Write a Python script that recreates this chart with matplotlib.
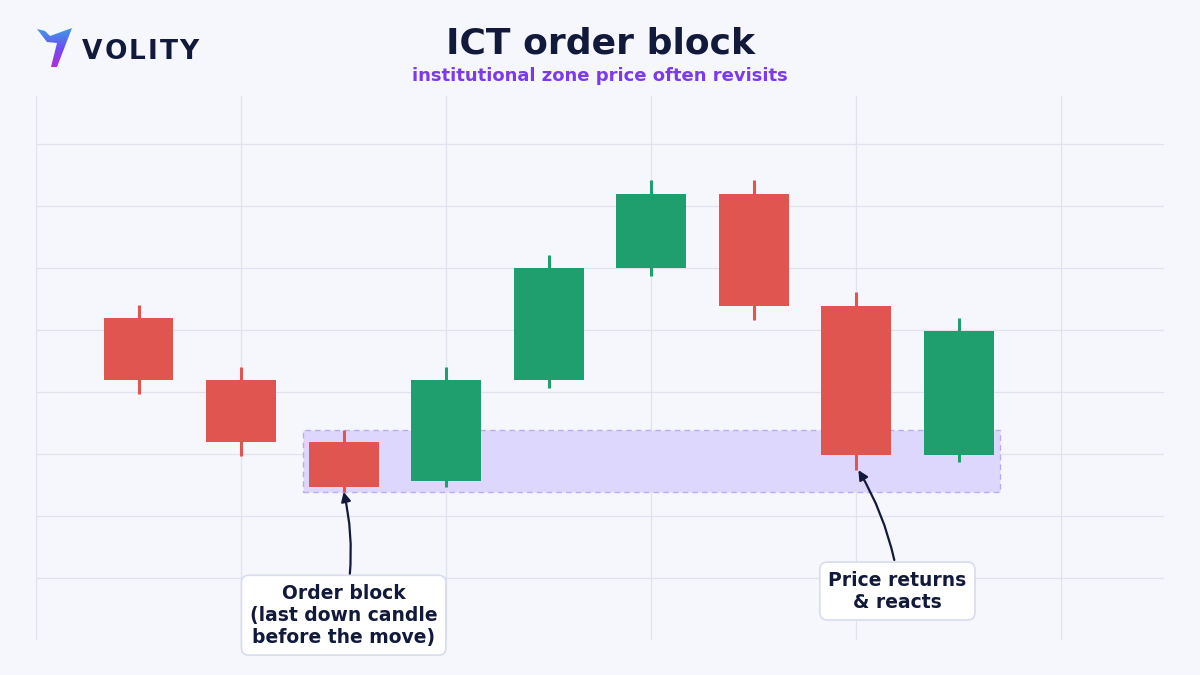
import numpy as np
import matplotlib.pyplot as plt
from matplotlib.patches import Rectangle, Polygon
from matplotlib.colors import LinearSegmentedColormap

# ============================
# Data (price units, one grid step = 1)
# ============================
opens = [5.19, 4.19, 3.19, 2.56, 4.19, 6.00, 7.19, 5.39, 2.98]
closes = [4.19, 3.19, 2.47, 4.19, 6.00, 7.19, 5.39, 2.98, 4.98]
highs = [5.40, 4.40, 3.39, 4.40, 6.21, 7.42, 7.42, 5.61, 5.19]
lows = [3.97, 2.97, 2.39, 2.47, 4.06, 5.87, 5.16, 2.74, 2.87]

zone_x = [1.6, 8.4]
zone_y = [2.39, 3.39]

title = "ICT order block"
subtitle = "institutional zone price often revisits"
ob_label = "Order block\n(last down candle\nbefore the move)"
react_label = "Price returns\n& reacts"
brand = "VOLITY"

BG = "#f5f7fc"
RED = "#e0554f"
GREEN = "#1f9f6e"
NAVY = "#111a3a"
PURPLE = "#7c3aed"
GRID = "#e0e3ef"

W, H = 1200, 675
fig = plt.figure(figsize=(12, 6.75), dpi=100, facecolor=BG)
ax = fig.add_axes([36 / W, 35 / H, 1128 / W, 544 / H])
ax.set_facecolor(BG)
ax.set_xlim(-1, 10)
ax.set_ylim(0, 544 / 62)

for s in ax.spines.values():
    s.set_visible(False)
ax.set_xticks([-1, 1, 3, 5, 7, 9])
ax.set_yticks(range(1, 9))
ax.tick_params(length=0, labelbottom=False, labelleft=False)
ax.grid(True, color=GRID, linewidth=0.9)
ax.set_axisbelow(True)

# ============================
# Order block zone
# ============================
ax.add_patch(Rectangle((zone_x[0], zone_y[0]), zone_x[1] - zone_x[0], zone_y[1] - zone_y[0],
                       facecolor="#ddd6fe", edgecolor="#b9a8f5", linestyle=(0, (4, 3)),
                       linewidth=1.0, alpha=0.95, zorder=1))

# ============================
# Candles
# ============================
bw = 0.68
for i, (o, c, h, l) in enumerate(zip(opens, closes, highs, lows)):
    col = GREEN if c >= o else RED
    ax.plot([i, i], [l, h], color=col, linewidth=2.2, zorder=2, solid_capstyle="butt")
    ax.add_patch(Rectangle((i - bw / 2, min(o, c)), bw, abs(c - o),
                           facecolor=col, edgecolor="none", zorder=3))

# ============================
# Annotations
# ============================
box = dict(boxstyle="round,pad=0.45,rounding_size=0.4", facecolor="white",
           edgecolor="#d9dcec", linewidth=1.2)
arrow = dict(arrowstyle="-|>", color=NAVY, lw=1.6, mutation_scale=14,
             connectionstyle="arc3,rad=0.08", shrinkA=0, shrinkB=0)

ax.annotate("", xy=(2.0, lows[2]), xytext=(2.06, 1.05), arrowprops=arrow, zorder=5)
ax.text(2.0, 0.4, ob_label, ha="center", va="center", fontsize=13.5, fontweight="bold",
        color=NAVY, linespacing=1.2, bbox=box, zorder=6)

ax.annotate("", xy=(7.02, lows[7]), xytext=(7.37, 1.29), arrowprops=arrow, zorder=5)
ax.text(7.4, 0.79, react_label, ha="center", va="center", fontsize=13.5, fontweight="bold",
        color=NAVY, linespacing=1.2, bbox=box, zorder=6)

# ============================
# Title
# ============================
fig.text(0.5, 1 - 43 / H, title, ha="center", va="center", fontsize=26,
         fontweight="bold", color=NAVY)
fig.text(0.5, 1 - 76 / H, subtitle, ha="center", va="center", fontsize=13,
         fontweight="bold", color=PURPLE)

# ============================
# Logo
# ============================
lax = fig.add_axes([0, 0, 1, 1], facecolor="none")
lax.set_xlim(0, W)
lax.set_ylim(H, 0)
lax.axis("off")
shape = [(37, 29), (45, 31), (50, 36), (72, 28), (57, 67), (51, 67), (57, 43), (47, 42)]
poly = Polygon(shape, closed=True, facecolor="none", edgecolor="none")
lax.add_patch(poly)
cmap = LinearSegmentedColormap.from_list("logo", ["#38a3e8", "#6d4ef0", "#c026d3"])
grad = np.linspace(0, 1, 64).reshape(-1, 1)
img = lax.imshow(grad, cmap=cmap, extent=(34, 74, 70, 26), aspect="auto")
img.set_clip_path(poly)

# brand letters spaced out a little
x = 82
for ch in brand:
    t = lax.text(x, 52, ch, ha="left", va="center", fontsize=19, fontweight="bold",
                 color=NAVY, family="DejaVu Sans")
    bb = t.get_window_extent(renderer=fig.canvas.get_renderer())
    x += bb.width + 2

fig.savefig("out.png", dpi=100, facecolor=BG)
